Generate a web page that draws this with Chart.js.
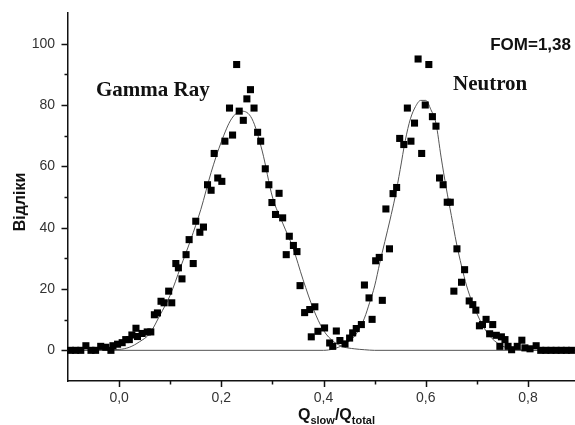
<!DOCTYPE html>
<html>
<head>
<meta charset="utf-8">
<title>Q_slow/Q_total</title>
<script src="https://cdn.jsdelivr.net/npm/chart.js@4/dist/chart.umd.min.js"></script>
<style>
  html, body { margin: 0; padding: 0; background: #fff; }
  #wrap { width: 575px; height: 425px; }
</style>
</head>
<body>
<div id="wrap"><canvas id="psd" width="575" height="425"></canvas></div>
<script>
// Measured points (Q_slow/Q_total, counts)
const pointX = [
  -0.095, -0.085, -0.075, -0.065, -0.055, -0.046, -0.036, -0.026, -0.016, -0.012,
  -0.003, 0.006, 0.013, 0.020, 0.025, 0.033, 0.036, 0.045, 0.055, 0.062,
  0.069, 0.075, 0.082, 0.088, 0.097, 0.103, 0.111, 0.116, 0.123, 0.131,
  0.137, 0.145, 0.150, 0.158, 0.165, 0.173, 0.180, 0.186, 0.193, 0.201,
  0.207, 0.216, 0.222, 0.230, 0.235, 0.243, 0.250, 0.257, 0.264, 0.271,
  0.277, 0.286, 0.293, 0.299, 0.306, 0.313, 0.320, 0.327, 0.333, 0.341,
  0.348, 0.354, 0.363, 0.373, 0.376, 0.383, 0.389, 0.402, 0.412, 0.418,
  0.425, 0.432, 0.442, 0.451, 0.457, 0.464, 0.474, 0.480, 0.489, 0.495,
  0.502, 0.509, 0.515, 0.522, 0.529, 0.536, 0.543, 0.549, 0.557, 0.564,
  0.571, 0.578, 0.585, 0.592, 0.599, 0.606, 0.613, 0.620, 0.627, 0.634,
  0.642, 0.648, 0.655, 0.661, 0.670, 0.676, 0.685, 0.692, 0.698, 0.705,
  0.711, 0.718, 0.725, 0.731, 0.738, 0.745, 0.748, 0.755, 0.761, 0.768,
  0.779, 0.788, 0.794, 0.804, 0.816, 0.825, 0.835, 0.845, 0.855, 0.865,
  0.875, 0.885
];
const pointY = [
  0, 0, 0, 1.5, 0, 0, 1.3, 1, 0, 1.5,
  2, 2.5, 3.5, 3.5, 5, 7.2, 4.5, 5.5, 6, 6,
  11.6, 12.2, 16, 15.5, 19.3, 15.5, 28.3, 26.9, 23.3, 31.2,
  36.1, 28.3, 42.1, 38.5, 40.2, 54, 52.2, 64.2, 56.2, 55.1,
  68.2, 79, 70.2, 93.2, 78, 75, 82, 85, 79, 71.1,
  68.2, 59.2, 54, 48.2, 44.3, 51.2, 43.2, 31.2, 37.2, 34.2,
  32.2, 21.1, 12.3, 13.3, 4.4, 14.2, 6.2, 7.3, 2.4, 1.3,
  6.3, 3.2, 2.1, 4, 5.7, 7.1, 8.4, 21.3, 17.1, 10.1,
  29.2, 30.3, 16.3, 46.1, 33.1, 51.1, 53.1, 69.1, 67.1, 79,
  68.2, 74.1, 95, 64.2, 80, 93.2, 76.2, 73.1, 56.2, 54,
  48.3, 48.3, 19.3, 33.1, 22.2, 26.3, 16.1, 14.9, 13.1, 8,
  8.4, 10.1, 5.4, 8.4, 4.9, 1.3, 4.4, 3.5, 1.3, 0.2,
  1.3, 3.3, 0.8, 0.5, 1.5, 0, 0, 0, 0, 0,
  0, 0
];

// Fit curves
const gammaFitX = [
  -0.1, 0.0, 0.02, 0.04, 0.06, 0.08, 0.10, 0.12, 0.14, 0.16,
  0.18, 0.20, 0.22, 0.24, 0.26, 0.28, 0.30, 0.32, 0.34, 0.36,
  0.38, 0.40, 0.42, 0.44, 0.46, 0.48, 0.50, 0.9
];
const gammaFitY = [
  0, 0.3, 1, 2.8, 5.5, 11.5, 18, 27, 36, 46,
  58, 68, 75.5, 78, 75.5, 65, 50, 41.5, 33.5, 23,
  13.5, 6.5, 2.8, 1.1, 0.5, 0.2, 0, 0
];
const neutronFitX = [
  -0.1, 0.40, 0.42, 0.44, 0.46, 0.47, 0.48, 0.49, 0.50, 0.51,
  0.52, 0.53, 0.54, 0.55, 0.56, 0.57, 0.58, 0.59, 0.60, 0.61,
  0.62, 0.63, 0.64, 0.65, 0.66, 0.67, 0.68, 0.69, 0.70, 0.71,
  0.72, 0.73, 0.74, 0.75, 0.76, 0.78, 0.80, 0.9
];
const neutronFitY = [
  0, 0, 0.5, 1.9, 4.5, 7, 10.5, 15.5, 21, 28.5,
  35.5, 42.5, 50, 59, 68.5, 75.5, 79.5, 81.5, 81.5, 78.5,
  74, 63, 53, 44, 35, 27.5, 21, 16, 12, 8.5,
  5.8, 3.8, 2.4, 1.4, 0.8, 0.2, 0, 0
];

// Axis ticks
const xMajorTicks = [0, 0.2, 0.4, 0.6, 0.8];
const xMinorTicks = [0.1, 0.3, 0.5, 0.7];
const yMajorTicks = [0, 20, 40, 60, 80, 100];
const yMinorTicks = [10, 30, 50, 70, 90];

const SANS = "'Liberation Sans', Arial, sans-serif";
const SERIF = "'Liberation Serif', 'Times New Roman', serif";

const zip = function(xs, ys) {
  return xs.map(function(x, i) { return {x: x, y: ys[i]}; });
};

// Tick marks (outward, major longer than minor) and all free texts
const decorPlugin = {
  id: 'decor',
  afterDraw: function(chart) {
    const ctx = chart.ctx;
    const xs = chart.scales.x;
    const ys = chart.scales.y;
    const area = chart.chartArea;
    ctx.save();
    ctx.strokeStyle = '#111';
    ctx.lineWidth = 1.5;
    ctx.beginPath();
    xMajorTicks.concat(xMinorTicks).forEach(function(v) {
      const px = Math.round(xs.getPixelForValue(v)) + 0.5;
      const len = xMajorTicks.indexOf(v) >= 0 ? 6 : 3.5;
      ctx.moveTo(px, area.bottom);
      ctx.lineTo(px, area.bottom + len);
    });
    yMajorTicks.concat(yMinorTicks).forEach(function(v) {
      const py = Math.round(ys.getPixelForValue(v)) + 0.5;
      const len = yMajorTicks.indexOf(v) >= 0 ? 6.5 : 3.5;
      ctx.moveTo(area.left, py);
      ctx.lineTo(area.left - len, py);
    });
    ctx.stroke();

    ctx.fillStyle = '#111';
    ctx.textBaseline = 'alphabetic';

    // peak labels
    ctx.font = 'bold 21px ' + SERIF;
    ctx.textAlign = 'left';
    ctx.fillText('Gamma Ray', 96, 96);
    ctx.fillText('Neutron', 453, 90);

    ctx.font = 'bold 17px ' + SANS;
    ctx.textAlign = 'right';
    ctx.fillText('FOM=1,38', 571, 50);

    // y axis title
    ctx.save();
    ctx.translate(25, 202);
    ctx.rotate(-Math.PI / 2);
    ctx.textAlign = 'center';
    ctx.font = 'bold 16px ' + SANS;
    ctx.fillText('Відліки', 0, 0);
    ctx.restore();

    // x axis title with subscripts
    ctx.textAlign = 'left';
    let cx = 298;
    const parts = [['Q', false], ['slow', true], ['/Q', false], ['total', true]];
    parts.forEach(function(p) {
      ctx.font = p[1] ? 'bold 11px ' + SANS : 'bold 16px ' + SANS;
      ctx.fillText(p[0], cx, p[1] ? 424 : 420);
      cx += ctx.measureText(p[0]).width;
    });
    ctx.restore();
  }
};

new Chart(document.getElementById('psd'), {
  type: 'scatter',
  data: {
    datasets: [
      {
        label: 'data',
        data: zip(pointX, pointY),
        pointStyle: 'rect',
        pointRadius: 5,
        pointBackgroundColor: '#000',
        pointBorderColor: '#000',
        pointBorderWidth: 0,
        showLine: false
      },
      {
        label: 'gamma fit',
        data: zip(gammaFitX, gammaFitY),
        showLine: true,
        borderColor: '#555',
        borderWidth: 1,
        pointRadius: 0,
        cubicInterpolationMode: 'monotone'
      },
      {
        label: 'neutron fit',
        data: zip(neutronFitX, neutronFitY),
        showLine: true,
        borderColor: '#555',
        borderWidth: 1,
        pointRadius: 0,
        cubicInterpolationMode: 'monotone'
      }
    ]
  },
  options: {
    responsive: false,
    animation: false,
    clip: false,
    layout: { autoPadding: false, padding: { top: 13, right: 0, left: 0, bottom: 0 } },
    plugins: {
      legend: { display: false },
      tooltip: { enabled: false }
    },
    scales: {
      x: {
        type: 'linear',
        min: -0.1,
        max: 0.892,
        grid: { display: false, drawTicks: false },
        border: { display: true, color: '#111', width: 1.5 },
        afterBuildTicks: function(scale) {
          scale.ticks = xMajorTicks.map(function(v) { return {value: v}; });
        },
        afterFit: function(scale) {
          scale.height = 44;
          scale.paddingLeft = 0;
          scale.paddingRight = 0;
        },
        ticks: {
          padding: 9,
          color: '#333',
          font: { family: SANS, size: 14 },
          maxRotation: 0,
          autoSkip: false,
          callback: function(v) { return Number(v).toFixed(1).replace('.', ','); }
        }
      },
      y: {
        type: 'linear',
        min: -10,
        max: 110,
        grid: { display: false, drawTicks: false },
        border: { display: true, color: '#111', width: 1.5 },
        afterBuildTicks: function(scale) {
          scale.ticks = yMajorTicks.map(function(v) { return {value: v}; });
        },
        afterFit: function(scale) {
          scale.width = 68;
          scale.paddingTop = 0;
          scale.paddingBottom = 0;
        },
        ticks: {
          padding: 13,
          color: '#333',
          font: { family: SANS, size: 14 },
          autoSkip: false
        }
      }
    }
  },
  plugins: [decorPlugin]
});
</script>
</body>
</html>
